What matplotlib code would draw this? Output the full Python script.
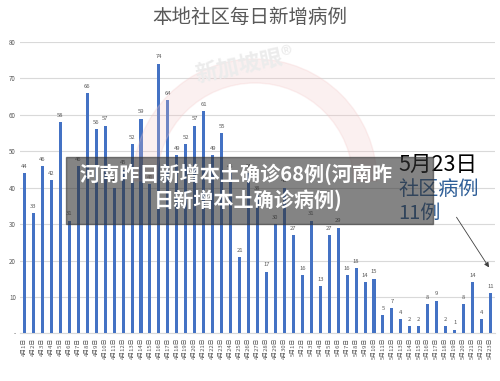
import numpy as np
import matplotlib
matplotlib.use("Agg")
import matplotlib.pyplot as plt
from matplotlib.patches import Rectangle, Wedge

plt.rcParams['font.family'] = ['Noto Sans CJK SC', 'DejaVu Sans']

# ---- data ----
dates = [f"4月{d}日" for d in range(1, 31)] + [f"5月{d}日" for d in range(1, 24)]
cases = [44, 33, 46, 42, 58, 31, 46, 66, 56, 57,
         40, 45, 52, 59, 41, 74, 64, 49, 52, 57,
         61, 49, 55, 44, 21, 44, 38, 17, 30, 40,
         27, 16, 31, 13, 27, 29, 16, 18, 14, 15,
         5, 7, 4, 2, 2, 8, 9, 2, 1, 8,
         14, 4, 11]
yticks = [0, 10, 20, 30, 40, 50, 60, 70, 80]
ytick_labels = ['-', '10', '20', '30', '40', '50', '60', '70', '80']

title = "本地社区每日新增病例"
banner = ["河南昨日新增本土确诊68例(河南昨", "日新增本土确诊病例)"]

# ---- figure ----
fig = plt.figure(figsize=(5, 3.81), dpi=100)
ax = fig.add_axes([0.04, 0.1247, 0.95, 0.7651])

x = np.arange(len(dates))
ax.bar(x, cases, width=0.34, color='#4472C4', zorder=3)
for xi, v in zip(x, cases):
    ax.text(xi, v + 1.2, str(v), ha='center', va='bottom', fontsize=4.2,
            color='#595959', zorder=4)

ax.set_xlim(-0.5, len(dates) - 0.5)
ax.set_ylim(0, 80)
ax.set_yticks(yticks)
ax.set_yticklabels(ytick_labels, fontsize=4.5, color='#595959')
ax.set_xticks(x)
ax.set_xticklabels(dates, rotation=90, fontsize=4.2, color='#595959')
ax.tick_params(length=0, pad=3)
ax.grid(axis='y', color='#d9d9d9', lw=0.8, zorder=0)
for s in ['top', 'right', 'left']:
    ax.spines[s].set_visible(False)
ax.spines['bottom'].set_color('#d9d9d9')

fig.text(0.5, 0.953, title, ha='center', va='center', fontsize=14, color='#595959')

# faint watermark
ring = Wedge((255, 200), 122, 0, 180, width=24, transform=None,
             color='#f3c5c5', alpha=0.25, zorder=0)
fig.patches.append(ring)
fig.text(0.49, 0.83, "新加坡眼®", fontsize=16, color='#ececec', rotation=12,
         ha='center', va='center', weight='bold', zorder=0)

# banner overlay
fig.patches.append(Rectangle((0.132, 0.412), 0.734, 0.176, transform=fig.transFigure,
                             color='#333333', alpha=0.6, zorder=5))
fig.text(0.472, 0.543, banner[0], ha='center', va='center', fontsize=14.5,
         weight='bold', color='white', zorder=6)
fig.text(0.496, 0.475, banner[1], ha='center', va='center', fontsize=14.5,
         weight='bold', color='white', zorder=6)

# annotation
fig.text(0.796, 0.567, "5月23日", ha='left', va='center', fontsize=15.5, color='black')
fig.text(0.796, 0.502, "社区病例", ha='left', va='center', fontsize=14.5, color='#2f5f98')
fig.text(0.796, 0.44, "11例", ha='left', va='center', fontsize=14.5, color='#2f5f98')
ax.annotate("", xy=(52, 17.5), xycoords='data',
            xytext=(0.91, 0.436), textcoords='figure fraction',
            arrowprops=dict(arrowstyle='-|>', color='#404040', lw=0.6,
                            mutation_scale=7))

fig.savefig("out.png", dpi=100)
